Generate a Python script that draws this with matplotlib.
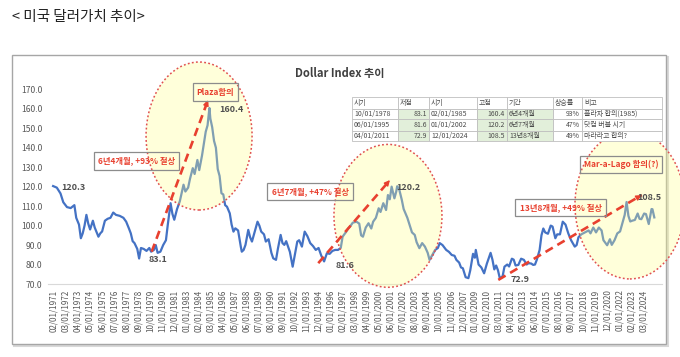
import matplotlib
matplotlib.use('Agg')
import matplotlib.pyplot as plt
from matplotlib.patches import Ellipse, Rectangle

plt.rcParams['font.family'] = ['Noto Sans CJK KR', 'DejaVu Sans']

# monthly Dollar Index (turning points)
dates = [
    '1971-01', '1971-05', '1971-09', '1971-12', '1972-04', '1972-08', '1972-12', '1973-02',
    '1973-05', '1973-07', '1973-09', '1973-11', '1974-01', '1974-03', '1974-05', '1974-08',
    '1974-10', '1975-02', '1975-04', '1975-06', '1975-09', '1975-12', '1976-03', '1976-06',
    '1976-09', '1977-01', '1977-05', '1977-08', '1977-11', '1978-01', '1978-03', '1978-05',
    '1978-08', '1978-10', '1978-12', '1979-03', '1979-06', '1979-09', '1979-11', '1980-02',
    '1980-04', '1980-06', '1980-09', '1980-12', '1981-03', '1981-05', '1981-08', '1981-10',
    '1981-12', '1982-03', '1982-06', '1982-10', '1982-12', '1983-03', '1983-05', '1983-08',
    '1983-10', '1984-01', '1984-03', '1984-06', '1984-08', '1984-10', '1984-12', '1985-02',
    '1985-03', '1985-05', '1985-07', '1985-09', '1985-11', '1986-01', '1986-03', '1986-05',
    '1986-07', '1986-09', '1986-12', '1987-02', '1987-04', '1987-06', '1987-09', '1987-12',
    '1988-01', '1988-03', '1988-05', '1988-08', '1988-10', '1988-12', '1989-03', '1989-06',
    '1989-08', '1989-10', '1990-01', '1990-03', '1990-06', '1990-09', '1990-11', '1991-02',
    '1991-04', '1991-07', '1991-09', '1991-11', '1992-01', '1992-03', '1992-05', '1992-08',
    '1992-10', '1993-01', '1993-03', '1993-06', '1993-09', '1993-12', '1994-03', '1994-06',
    '1994-09', '1994-12', '1995-03', '1995-06', '1995-09', '1995-12', '1996-03', '1996-06',
    '1996-09', '1996-12', '1997-02', '1997-06', '1997-08', '1997-10', '1998-01', '1998-05',
    '1998-08', '1998-10', '1998-12', '1999-03', '1999-06', '1999-09', '1999-11', '2000-02',
    '2000-05', '2000-07', '2000-10', '2001-01', '2001-03', '2001-05', '2001-07', '2001-10',
    '2001-12', '2002-01', '2002-03', '2002-06', '2002-08', '2002-10', '2002-12', '2003-03',
    '2003-05', '2003-08', '2003-10', '2004-01', '2004-04', '2004-07', '2004-10', '2004-12',
    '2005-03', '2005-06', '2005-09', '2005-11', '2006-02', '2006-06', '2006-09', '2006-12',
    '2007-03', '2007-05', '2007-08', '2007-10', '2007-12', '2008-03', '2008-06', '2008-08',
    '2008-11', '2009-01', '2009-02', '2009-05', '2009-08', '2009-11', '2010-02', '2010-06',
    '2010-08', '2010-10', '2010-12', '2011-02', '2011-04', '2011-07', '2011-09', '2011-12',
    '2012-02', '2012-05', '2012-07', '2012-09', '2012-12', '2013-03', '2013-06', '2013-09',
    '2013-11', '2014-02', '2014-04', '2014-06', '2014-08', '2014-11', '2015-01', '2015-03',
    '2015-05', '2015-08', '2015-11', '2016-01', '2016-04', '2016-06', '2016-09', '2016-12',
    '2017-03', '2017-06', '2017-09', '2018-01', '2018-03', '2018-05', '2018-08', '2018-12',
    '2019-04', '2019-06', '2019-09', '2019-12', '2020-03', '2020-06', '2020-08', '2020-12',
    '2021-03', '2021-05', '2021-08', '2021-11', '2022-02', '2022-05', '2022-07', '2022-09',
    '2022-11', '2023-01', '2023-03', '2023-06', '2023-09', '2023-11', '2024-01', '2024-04',
    '2024-06', '2024-09', '2024-12', '2025-01', '2025-03',
]
values = [
    120.3, 119.5, 116.5, 112.0, 109.5, 109.0, 110.5, 104.0,
    100.5, 93.5, 96.0, 100.0, 105.5, 101.0, 98.0, 102.5,
    99.0, 94.3, 96.0, 97.0, 102.5, 103.5, 104.0, 106.7,
    105.5, 105.0, 104.0, 102.0, 98.5, 96.0, 92.0, 91.0,
    88.0, 83.1, 88.5, 88.0, 87.0, 88.5, 86.6, 87.5,
    90.0, 86.0, 86.6, 90.0, 92.5, 100.5, 111.5, 106.0,
    103.0, 108.5, 112.5, 121.0, 117.5, 119.5, 124.0, 129.5,
    126.5, 133.7, 128.5, 136.0, 142.0, 148.2, 151.5, 160.4,
    155.0, 150.5, 143.5, 140.0, 129.0, 125.5, 116.6, 116.0,
    110.5, 109.7, 106.3, 100.5, 96.9, 98.6, 97.5, 89.0,
    86.6, 87.5, 90.1, 97.8, 94.0, 91.8, 97.0, 102.0,
    100.0, 96.9, 95.5, 91.8, 93.0, 86.0, 83.2, 82.4,
    88.0, 95.2, 91.0, 90.1, 92.0, 89.2, 86.5, 78.9,
    84.0, 91.8, 92.5, 89.2, 96.9, 94.5, 91.0, 89.5,
    87.5, 88.5, 84.5, 81.6, 85.8, 85.5, 87.0, 87.5,
    87.5, 88.5, 94.3, 96.9, 98.5, 99.5, 101.5, 102.0,
    101.0, 95.0, 94.3, 99.0, 101.2, 98.5, 102.0, 104.0,
    108.9, 107.0, 111.5, 108.0, 115.7, 113.5, 120.0, 114.0,
    117.5, 120.2, 119.0, 113.2, 108.5, 106.3, 104.0, 99.5,
    96.5, 95.2, 91.5, 88.4, 91.0, 89.2, 86.0, 82.4,
    85.0, 87.5, 88.5, 91.0, 90.0, 87.5, 86.5, 84.9,
    84.5, 82.4, 81.0, 78.5, 78.1, 73.5, 73.0, 77.0,
    85.5, 83.5, 87.5, 80.0, 78.5, 75.5, 80.5, 86.0,
    82.5, 77.5, 79.5, 77.0, 72.9, 74.0, 78.9, 80.0,
    79.0, 83.0, 82.5, 79.5, 79.8, 83.0, 82.4, 80.0,
    80.7, 80.5, 79.8, 80.0, 82.5, 87.5, 95.0, 98.5,
    96.5, 95.8, 100.0, 99.5, 93.5, 95.5, 95.5, 102.0,
    100.5, 96.0, 92.5, 89.2, 90.0, 94.0, 95.5, 96.5,
    97.5, 96.0, 99.0, 96.5, 99.0, 97.5, 92.5, 89.9,
    93.0, 90.1, 92.5, 96.0, 97.0, 102.0, 105.5, 112.1,
    105.0, 102.1, 102.5, 102.9, 106.2, 103.5, 103.3, 106.2,
    105.9, 100.8, 108.5, 108.4, 104.2,
]

tick_labels = [
    '02/01/1971', '03/01/1972', '04/01/1973', '05/01/1974', '06/01/1975', '07/01/1976',
    '08/01/1977', '09/01/1978', '10/01/1979', '11/01/1980', '12/01/1981', '01/01/1983',
    '02/01/1984', '03/01/1985', '04/01/1986', '05/01/1987', '06/01/1988', '07/01/1989',
    '08/01/1990', '09/01/1991', '10/01/1992', '11/01/1993', '12/01/1994', '01/01/1996',
    '02/01/1997', '03/01/1998', '04/01/1999', '05/01/2000', '06/01/2001', '07/01/2002',
    '08/01/2003', '09/01/2004', '10/01/2005', '11/01/2006', '12/01/2007', '01/01/2009',
    '02/01/2010', '03/01/2011', '04/01/2012', '05/01/2013', '06/01/2014', '07/01/2015',
    '08/01/2016', '09/01/2017', '10/01/2018', '11/01/2019', '12/01/2020', '01/01/2022',
    '02/01/2023', '03/01/2024',
]

# summary table
table_header = ['시기', '저점', '시기', '고점', '기간', '상승률', '비고']
table_rows = [
    ['10/01/1978', '83.1', '02/01/1985', '160.4', '6년4개월', '93%', '플라자 합의(1985)'],
    ['06/01/1995', '81.6', '01/01/2002', '120.2', '6년7개월', '47%', '닷컴 버블 시기'],
    ['04/01/2011', '72.9', '12/01/2024', '108.5', '13년8개월', '49%', '마라라고 합의?'],
]


def ym(s):
    y, m = s.split('-')
    return int(y) + (int(m) - 1) / 12


def tick_pos(s):
    m, d, y = s.split('/')
    return int(y) + (int(m) - 1) / 12


W, H = 680, 357
fig = plt.figure(figsize=(W / 100, H / 100), dpi=100)


def fx(x):
    return x / W


def fy(y):
    return 1 - y / H


# outer frame with a light shadow (behind the axes)
fig.add_artist(Rectangle((fx(14), fy(346)), fx(654), fy(55) - fy(344), transform=fig.transFigure,
                         facecolor='none', edgecolor='#D8D8D8', lw=1.5, zorder=-10))
fig.add_artist(Rectangle((fx(12), fy(344)), fx(654), fy(55) - fy(344), transform=fig.transFigure,
                         facecolor='white', edgecolor='#A6A6A6', lw=1, zorder=-9))

fig.text(fx(12), fy(17), '< 미국 달러가치 추이>', fontsize=10.5, va='center', color='#222222')
fig.text(fx(340), fy(73), 'Dollar Index 추이', ha='center', va='center', fontsize=8,
         weight='bold', color='#404040')

ax = fig.add_axes([fx(48), fy(284), fx(662) - fx(48), fy(89.3) - fy(284)])
ax.patch.set_alpha(0)
ax.set_ylim(70, 170)
ax.set_xlim(1970.54, 2025.86)
for s in ['top', 'right', 'left']:
    ax.spines[s].set_visible(False)
ax.spines['bottom'].set_color('#D9D9D9')

ax.set_yticks(range(70, 171, 10))
ax.set_yticklabels([f'{v:.1f}' for v in range(70, 171, 10)])
ax.set_xticks([tick_pos(t) for t in tick_labels])
ax.set_xticklabels(tick_labels, rotation=90)
ax.tick_params(axis='y', length=0, pad=4, labelsize=6.2, labelcolor='#595959')
ax.tick_params(axis='x', length=0, pad=4, labelsize=5.8, labelcolor='#595959')

ax.plot([ym(d) for d in dates], values, color='#4472C4', lw=1.6, zorder=2)

# highlighted periods
ellipses = [((1984.15, 146), 9.55, 76), ((2001.17, 105), 9.73, 73.4), ((2022.97, 110.6), 9.9, 76)]
for c, w, h in ellipses:
    ax.add_patch(Ellipse(c, w, h, facecolor=(1, 1, 0.55), alpha=0.32, edgecolor='none',
                         zorder=3, clip_on=False))
    ax.add_patch(Ellipse(c, w, h, fill=False, edgecolor='#E05050', lw=1.1,
                         linestyle=(0, (1.2, 1.5)), zorder=4, clip_on=False))

# dashed trend arrows
red = '#E8402F'
arrows = [((1979.88, 86.6), (1984.96, 164.5)),
          ((1994.89, 80.7), (2001.35, 123.4)),
          ((2011.11, 72.1), (2024.03, 115.7))]
for (x0, y0), (x1, y1) in arrows:
    ax.plot([x0, x1], [y0, y1], color=red, lw=1.9, ls=(0, (3.2, 2)), zorder=5, clip_on=False)
    ax.annotate('', xy=(x1, y1), xytext=(x1 - 0.03 * (x1 - x0), y1 - 0.03 * (y1 - y0)),
                arrowprops=dict(arrowstyle='-|>', color=red, lw=1, mutation_scale=8,
                                shrinkA=0, shrinkB=0), zorder=5, annotation_clip=False)

box = dict(boxstyle='square,pad=0.5', facecolor='none', edgecolor='#8C8C8C', lw=0.9)
notes = [('Plaza합의', 215.5, 92), ('6년4개월, +93% 절상', 136.5, 161),
         ('6년7개월, +47% 절상', 310, 191.5), ('13년8개월, +49% 절상', 560.5, 207.5),
         ('Mar-a-Lago 합의(?)', 621, 164.5)]
for t, x, y in notes:
    fig.text(fx(x), fy(y), t, ha='center', va='center', fontsize=6, weight='bold',
             color=red, bbox=box)

labels = [('120.3', 73, 188), ('160.4', 231, 109), ('83.1', 158, 260), ('81.6', 345, 265),
          ('120.2', 408, 187), ('72.9', 520, 280), ('108.5', 649, 198)]
for t, x, y in labels:
    fig.text(fx(x), fy(y), t, ha='center', va='center', fontsize=6.5, weight='bold',
             color='#505050')

# table
cols = [352, 398, 429, 477, 507, 553, 582, 662]
rows = [97, 108.5, 119.5, 130.5, 141.5]
green = {1, 3, 4}
align = ['left', 'right', 'left', 'right', 'left', 'right', 'left']
for r, cells in enumerate([table_header] + table_rows):
    for c, txt in enumerate(cells):
        x0, x1 = cols[c], cols[c + 1]
        y0, y1 = rows[r], rows[r + 1]
        fc = '#E2EFDA' if (r > 0 and c in green) else 'white'
        fig.add_artist(Rectangle((fx(x0), fy(y1)), fx(x1 - x0), fy(y0) - fy(y1),
                                 transform=fig.transFigure, facecolor=fc,
                                 edgecolor='#BFBFBF', lw=0.6))
        ha = 'left' if r == 0 else align[c]
        tx = x0 + 2 if ha == 'left' else x1 - 2
        fig.text(fx(tx), fy((y0 + y1) / 2), txt, ha=ha, va='center', fontsize=5,
                 color='#4a4a4a')

fig.savefig('out.png', dpi=100)
